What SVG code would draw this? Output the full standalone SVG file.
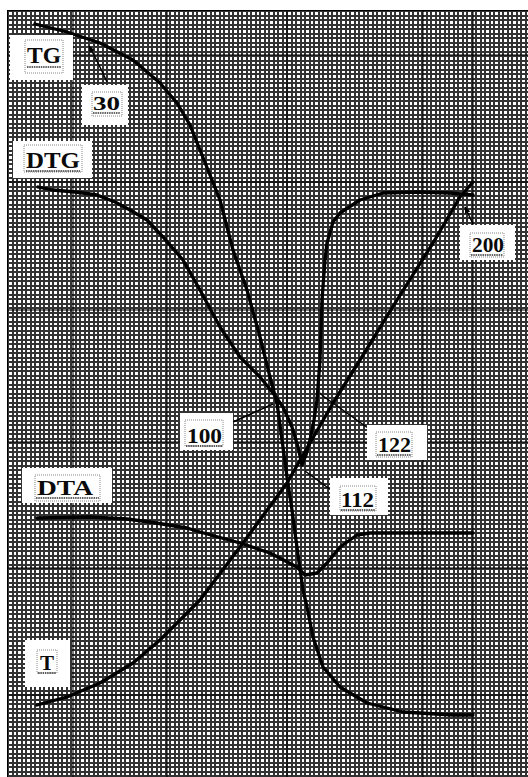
<svg xmlns="http://www.w3.org/2000/svg" width="528" height="777" viewBox="0 0 528 777">
<defs>
<pattern id="grid" x="7" y="10" width="9" height="9" patternUnits="userSpaceOnUse">
<rect width="9" height="9" fill="#fff"/>
<path d="M0 0H9V2H0ZM0 4.5H9V6.5H0ZM0 0H2V9H0ZM4.5 0H6.5V9H4.5Z" fill="#333" shape-rendering="crispEdges"/>
</pattern>
<marker id="ah" viewBox="0 0 10 10" refX="9" refY="5" markerWidth="7" markerHeight="7" orient="auto-start-reverse" markerUnits="userSpaceOnUse">
<path d="M0 1L10 5L0 9Z" fill="#000"/>
</marker>
</defs>
<style>
.curve{fill:none;stroke:#000;stroke-width:3.3;stroke-linejoin:round;stroke-linecap:round}
.leader{fill:none;stroke:#000;stroke-width:1.5}
.box{fill:#fff}
.frm{fill:none;stroke:#888;stroke-width:1;stroke-dasharray:1 1}
.ul{stroke:#333;stroke-width:1.3;stroke-dasharray:1.5 0.8}
.lbl{font-family:"Liberation Serif","Times New Roman",serif;font-weight:bold;fill:#0a0a0a}
.major{stroke:#000;stroke-width:1}
</style>
<rect width="528" height="777" fill="#fff"/>
<rect x="7" y="10" width="521" height="767" fill="url(#grid)"/>
<g id="grid-major">
<path class="major" d="M7 10.5H528M7 55H528M7 182H528M7 310H528M7 442H528M7 568H528M7 695H528"/>
<path class="major" d="M7.5 10V777M73 10V777M167 10V777M287 10V777M423 10V777M473 10V777"/>
</g>
<g id="connectors">
<path id="curve-TG" class="curve" d="M35 24L67 32L100 43L133 60L160 83L177 103L190 125L200 150L210 175L220 200L233 250L247 290L260 337L270 377L277 403L282 440L287 477L292 510L298 555L303 590L307 607L313 637L323 667L340 687L367 703L403 712L453 715L473 715"/>
<path id="curve-DTG" class="curve" d="M38 187L53 190L75 192L97 195L115 202L130 210L147 220L163 237L183 260L200 290L220 327L240 357L260 377L273 393L283 407L292 427L298 447L302 465L306 455L310 440L314 420L317 400L320 360L322 300L325 260L327 243L333 222L340 213L360 200L383 193L417 192L450 193L473 195"/>
<path id="curve-DTA" class="curve" d="M37 518L90 517L127 519L150 522L187 528L200 532L240 543L270 553L297 567L305 575L317 573L327 563L340 547L357 535L370 533L473 533"/>
<path id="curve-T" class="curve" d="M37 705L67 697L100 683L133 663L160 640L187 613L200 600L240 547L287 483L333 403L360 360L397 300L433 243L460 197L473 182"/>
<path id="leader-30" class="leader" d="M107 82Q98 62 89 46" marker-end="url(#ah)"/>
<path id="leader-100" class="leader" d="M233 422L273 404"/>
<path id="leader-122" class="leader" d="M368 428L323 396L320 393"/>
<path id="leader-112" class="leader" d="M331 490L305 471"/>
<path id="leader-200" class="leader" d="M473 224L465 207" marker-end="url(#ah)"/>
</g>
<g id="label-TG">
<rect class="box" x="10" y="35" width="63" height="45"/>
<rect class="frm" x="25" y="40" width="38" height="33"/>
<line class="ul" x1="27" y1="67" x2="61" y2="67"/>
<text class="lbl" x="27" y="63" font-size="23" textLength="34" lengthAdjust="spacingAndGlyphs">TG</text>
</g>
<g id="label-30">
<rect class="box" x="82" y="85" width="46" height="40"/>
<rect class="frm" x="92" y="92" width="30" height="24"/>
<line class="ul" x1="93" y1="113" x2="120" y2="113"/>
<text class="lbl" x="93" y="110" font-size="18" textLength="27" lengthAdjust="spacingAndGlyphs">30</text>
</g>
<g id="label-DTG">
<rect class="box" x="13" y="141" width="79" height="37"/>
<rect class="frm" x="24" y="145" width="58" height="27"/>
<line class="ul" x1="26" y1="171" x2="80" y2="171"/>
<text class="lbl" x="26" y="168" font-size="23" textLength="54" lengthAdjust="spacingAndGlyphs">DTG</text>
</g>
<g id="label-DTA">
<rect class="box" x="22" y="468" width="90" height="35"/>
<rect class="frm" x="35" y="475" width="65" height="26"/>
<line class="ul" x1="36" y1="498" x2="99" y2="498"/>
<text class="lbl" x="37" y="495" font-size="22" textLength="56" lengthAdjust="spacingAndGlyphs">DTA</text>
</g>
<g id="label-T">
<rect class="box" x="25" y="640" width="45" height="47"/>
<rect class="frm" x="37" y="650" width="20" height="23"/>
<line class="ul" x1="38" y1="673" x2="56" y2="673"/>
<text class="lbl" x="40" y="670" font-size="21">T</text>
</g>
<g id="label-100">
<rect class="box" x="180" y="413" width="53" height="37"/>
<rect class="frm" x="185" y="420" width="38" height="26"/>
<line class="ul" x1="186" y1="446" x2="222" y2="446"/>
<text class="lbl" x="187" y="443" font-size="22" textLength="35" lengthAdjust="spacingAndGlyphs">100</text>
</g>
<g id="label-122">
<rect class="box" x="367" y="425" width="60" height="35"/>
<rect class="frm" x="376" y="432" width="36" height="25"/>
<line class="ul" x1="377" y1="455" x2="411" y2="455"/>
<text class="lbl" x="378" y="452" font-size="22" textLength="33" lengthAdjust="spacingAndGlyphs">122</text>
</g>
<g id="label-112">
<rect class="box" x="330" y="478" width="58" height="37"/>
<rect class="frm" x="340" y="486" width="36" height="25"/>
<line class="ul" x1="341" y1="510" x2="375" y2="510"/>
<text class="lbl" x="341" y="507" font-size="22" textLength="33" lengthAdjust="spacingAndGlyphs">112</text>
</g>
<g id="label-200">
<rect class="box" x="460" y="225" width="55" height="35"/>
<rect class="frm" x="470" y="233" width="34" height="24"/>
<line class="ul" x1="471" y1="255" x2="503" y2="255"/>
<text class="lbl" x="472" y="252" font-size="21" textLength="32" lengthAdjust="spacingAndGlyphs">200</text>
</g>
</svg>
